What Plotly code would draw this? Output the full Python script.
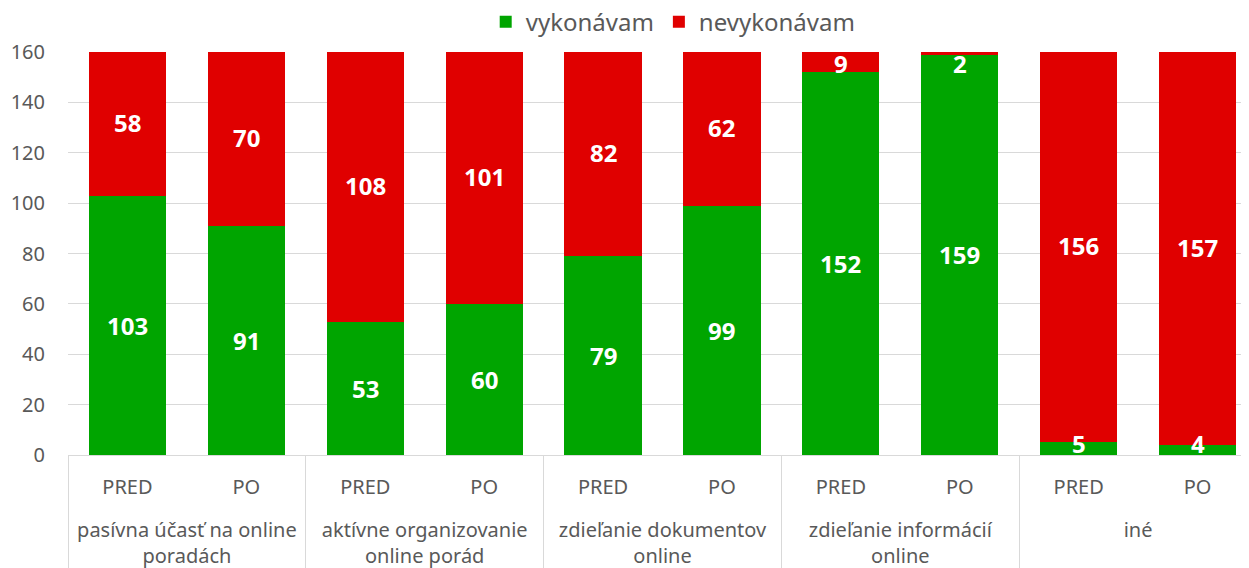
import plotly.graph_objects as go

groups = ["pasívna účasť na online<br>poradách", "pasívna účasť na online<br>poradách",
          "aktívne organizovanie<br>online porád", "aktívne organizovanie<br>online porád",
          "zdieľanie dokumentov<br>online", "zdieľanie dokumentov<br>online",
          "zdieľanie informácií<br>online", "zdieľanie informácií<br>online",
          "iné", "iné"]
periods = ["PRED", "PO", "PRED", "PO", "PRED", "PO", "PRED", "PO", "PRED", "PO"]
vykonavam = [103, 91, 53, 60, 79, 99, 152, 159, 5, 4]
nevykonavam = [58, 70, 108, 101, 82, 62, 9, 2, 156, 157]
y_ticks = [0, 20, 40, 60, 80, 100, 120, 140, 160]

FONT = "Noto Sans"
GRAY = "#595959"
Y_MAX = 160
LABEL_PAD = 4.5  # keep labels inside plot area (in axis units)

# inner tick labels get an extra blank line so the group labels sit lower
period_labels = [p + "<br><span style='font-size:27px'> </span>" for p in periods]

fig = go.Figure()
fig.add_trace(go.Bar(
    x=[groups, period_labels], y=vykonavam, name="vykonávam",
    marker=dict(color="#00a500", line=dict(width=0)),
))
fig.add_trace(go.Bar(
    x=[groups, period_labels], y=nevykonavam, name="nevykonávam",
    marker=dict(color="#e00000", line=dict(width=0)),
))

for i, (g, r) in enumerate(zip(vykonavam, nevykonavam)):
    for base, val in ((0, g), (g, r)):
        yc = min(max(base + val / 2, LABEL_PAD), Y_MAX - LABEL_PAD)
        fig.add_annotation(x=i, y=yc, text=str(val), showarrow=False,
                           font=dict(family=FONT, size=24, color="white", weight="bold"))

fig.update_layout(
    barmode="stack",
    bargap=0.35,
    width=1249, height=568,
    margin=dict(l=60, r=0, t=44, b=121, autoexpand=False),
    paper_bgcolor="white", plot_bgcolor="white",
    font=dict(family=FONT, color=GRAY, size=20),
    legend=dict(orientation="h", x=0.509, xanchor="center",
                y=1.074, yanchor="middle", traceorder="normal",
                font=dict(size=24, color=GRAY, family=FONT)),
)
fig.update_yaxes(
    range=[0, Y_MAX], tickvals=y_ticks, showgrid=True, gridcolor="#d9d9d9", gridwidth=1,
    zeroline=False, showline=False, ticks="", ticklabelstandoff=22,
    tickfont=dict(size=20, color=GRAY, family=FONT),
)
fig.update_xaxes(
    type="multicategory", range=[-0.5, 9.5],
    showline=True, linecolor="#d9d9d9", linewidth=1,
    showdividers=True, dividercolor="#d9d9d9", dividerwidth=1,
    ticklabelstandoff=14,
    tickfont=dict(size=20, color=GRAY, family=FONT),
)

fig.write_html("out.html")
